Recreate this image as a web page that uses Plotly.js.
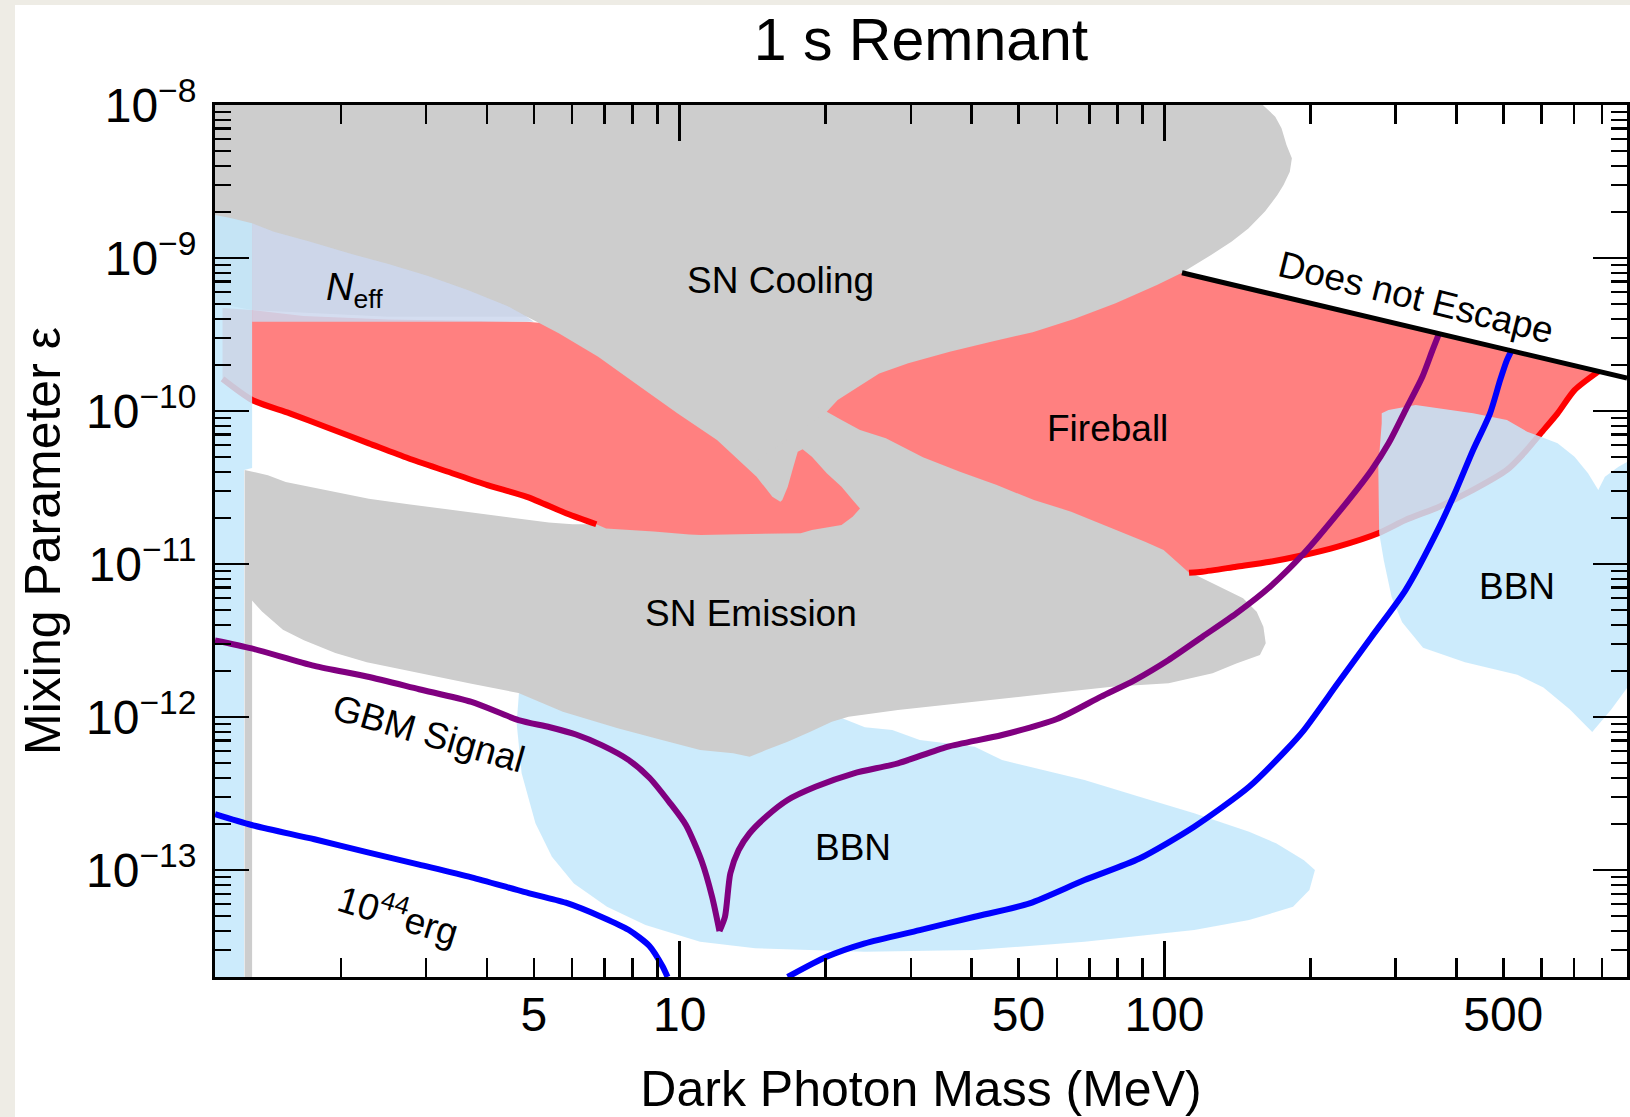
<!DOCTYPE html>
<html>
<head>
<meta charset="utf-8">
<script src="https://cdn.plot.ly/plotly-3.0.1.min.js"></script>
<style>
  html, body { margin: 0; padding: 0; background: #EEECE5; width: 1630px; height: 1117px; overflow: hidden; }
  #chart { position: absolute; left: 15px; top: 5px; width: 1615px; height: 1112px; background: #ffffff; }
</style>
</head>
<body>
<div id="chart"></div>
<script>
// ---------------- data (mass in MeV, mixing parameter epsilon) ----------------
// SN Cooling excluded region (gray)
const snCoolMass = [1.1, 159.6, 169.3, 174.4, 178.6, 183.2, 181.4, 176.1, 171.0, 161.2, 149.0, 137.7, 124.8, 115.3, 108.7, 74.0, 26.0, 16.96, 6.87, 5.68, 5.12, 4.84, 2.508, 1.312, 1.1];
const snCoolEps  = [1e-8, 1e-8, 8.39e-9, 7.04e-9, 5.48e-9, 4.48e-9, 3.66e-9, 3.00e-9, 2.58e-9, 2.01e-9, 1.56e-9, 1.28e-9, 1.046e-9, 9.0e-10, 8.01e-10, 2.15e-10, 6.46e-11, 1.94e-11, 4.12e-11, 1.18e-10, 3.78e-10, 4.13e-10, 4.13e-10, 4.57e-10, 5.08e-10];

// SN Emission region (gray)
const snEmiMass = [1.266, 1.414, 1.539, 1.739, 1.947, 2.284, 2.755, 3.518, 4.326, 5.369, 6.01, 6.73, 11.06, 20.12, 45.99, 93.8, 112.4, 129.8, 145.3, 155.0, 160.0, 161.8, 157.4, 140.7, 125.7, 102.0, 77.9, 58.5, 40.6, 28.2, 22.3, 20.6, 18.6, 16.7, 15.07, 13.94, 12.89, 11.02, 9.19, 7.45, 5.74, 4.65, 3.72, 2.90, 2.262, 1.948, 1.678, 1.519, 1.375, 1.312, 1.312, 1.266];
const snEmiEps  = [4.12e-11, 3.80e-11, 3.44e-11, 3.17e-11, 2.97e-11, 2.67e-11, 2.46e-11, 2.22e-11, 2.04e-11, 1.87e-11, 1.82e-11, 1.82e-11, 2.62e-11, 9.85e-11, 5.56e-11, 1.94e-11, 8.91e-12, 7.11e-12, 5.97e-12, 4.88e-12, 3.89e-12, 3.03e-12, 2.54e-12, 2.24e-12, 1.93e-12, 1.66e-12, 1.58e-12, 1.43e-12, 1.26e-12, 1.11e-12, 1.005e-12, 9.32e-13, 8.01e-13, 6.90e-13, 6.08e-13, 5.50e-13, 5.79e-13, 6.08e-13, 7.07e-13, 8.44e-13, 1.083e-12, 1.437e-12, 1.65e-12, 1.94e-12, 2.28e-12, 2.62e-12, 3.17e-12, 3.72e-12, 4.89e-12, 5.77e-12, 2e-14, 2e-14];

// Fireball region, left band (salmon)
const fireLeftMass = [1.140, 1.312, 1.675, 2.508, 4.84, 5.12, 5.63, 6.79, 8.19, 9.89, 11.94, 14.41, 15.53, 16.13, 16.28, 16.71, 17.16, 17.52, 17.93, 18.74, 20.11, 21.57, 22.74, 23.55, 22.74, 21.57, 18.74, 17.77, 11.06, 10.47, 8.84, 7.05, 6.73, 5.845, 4.84, 4.012, 3.327, 2.755, 2.284, 1.892, 1.569, 1.312, 1.140];
const fireLeftEps  = [4.71e-10, 4.57e-10, 4.18e-10, 3.97e-10, 3.83e-10, 3.78e-10, 3.22e-10, 2.26e-10, 1.48e-10, 9.66e-11, 6.46e-11, 3.72e-11, 2.75e-11, 2.55e-11, 2.62e-11, 3.20e-11, 4.32e-11, 5.42e-11, 5.62e-11, 5.03e-11, 3.92e-11, 3.20e-11, 2.62e-11, 2.31e-11, 2.04e-11, 1.80e-11, 1.67e-11, 1.59e-11, 1.55e-11, 1.56e-11, 1.63e-11, 1.71e-11, 1.82e-11, 2.14e-11, 2.75e-11, 3.28e-11, 4.01e-11, 4.91e-11, 6.15e-11, 7.71e-11, 9.66e-11, 1.18e-10, 1.62e-10];

// Fireball region, right part: upper edge and lower edge
const fireUpperMass = [20.11, 21.18, 23.37, 25.80, 29.61, 36.06, 43.90, 53.48, 65.1, 79.3, 96.5, 108.7];
const fireUpperEps  = [9.89e-11, 1.18e-10, 1.44e-10, 1.76e-10, 2.05e-10, 2.44e-10, 2.84e-10, 3.27e-10, 3.99e-10, 5.06e-10, 6.66e-10, 8.01e-10];
const fireLowerMass = [106.8, 99.6, 91.2, 76.5, 64.2, 53.8, 45.1, 37.85, 31.76, 26.63, 23.55, 21.57];
const fireLowerEps  = [1.011e-11, 1.234e-11, 1.40e-11, 1.75e-11, 2.20e-11, 2.62e-11, 3.28e-11, 4.01e-11, 4.98e-11, 6.63e-11, 7.51e-11, 8.73e-11];

// Fireball boundary line (red)
const redLeftMass = [1.140, 1.312, 1.569, 1.892, 2.284, 2.755, 3.327, 4.012, 4.84, 5.845, 6.73];
const redLeftEps  = [1.62e-10, 1.18e-10, 9.66e-11, 7.71e-11, 6.15e-11, 4.91e-11, 4.01e-11, 3.28e-11, 2.75e-11, 2.14e-11, 1.82e-11];
const redRightMass = [112.4, 119.8, 140.7, 165.2, 194.0, 227.8, 276.2, 314.3, 369.0, 433.3, 508.8, 551.3, 597.4, 647.3, 701.5, 785.2];
const redRightEps  = [8.77e-12, 8.91e-12, 9.60e-12, 1.035e-11, 1.145e-11, 1.30e-11, 1.59e-11, 1.94e-11, 2.37e-11, 3.05e-11, 4.12e-11, 5.29e-11, 7.15e-11, 9.66e-11, 1.37e-10, 1.81e-10];

// "Does not Escape" line (black)
const escapeMass = [108.7, 900];
const escapeEps  = [8.01e-10, 1.64e-10];

// Neff: left vertical strip and upper band
const stripMass = [1.1, 1.184, 1.312, 1.312, 1.263, 1.263, 1.1];
const stripEps  = [1.91e-9, 1.825e-9, 1.69e-9, 4.24e-11, 4.12e-11, 2e-14, 2e-14];
const neffMass = [1.312, 1.455, 1.723, 2.079, 2.508, 3.027, 3.652, 4.41, 4.84, 5.00, 1.312];
const neffEps  = [1.685e-9, 1.485e-9, 1.28e-9, 1.073e-9, 9.14e-10, 7.63e-10, 6.18e-10, 4.86e-10, 4.13e-10, 3.83e-10, 3.83e-10];

// BBN regions (light blue)
const bbnLowMass = [4.66, 4.61, 4.72, 5.04, 5.45, 6.05, 7.08, 8.50, 11.02, 14.31, 24.10, 40.6, 68.4, 115.2, 149.5, 184.2, 199.1, 204.4, 194.0, 170.3, 149.5, 115.2, 88.8, 68.4, 52.7, 46.24, 40.6, 31.28, 27.45, 24.10, 21.71, 17.8, 11.06, 5.68];
const bbnLowEps  = [1.43e-12, 9.10e-13, 4.29e-13, 2.02e-13, 1.22e-13, 8.18e-14, 5.75e-14, 4.37e-14, 3.40e-14, 3.08e-14, 2.92e-14, 3.00e-14, 3.40e-14, 4.05e-14, 4.71e-14, 5.75e-14, 7.40e-14, 1.0e-13, 1.16e-13, 1.49e-13, 1.78e-13, 2.35e-13, 3.01e-13, 3.87e-13, 4.73e-13, 5.24e-13, 6.39e-13, 7.07e-13, 8.22e-13, 8.56e-13, 9.80e-13, 1.29e-12, 1.50e-12, 1.50e-12];
const bbnHighMass = [280.7, 290.0, 329.7, 369.0, 433.3, 508.8, 560.2, 597.4, 647.3, 701.5, 747.9, 785.2, 810.4, 864.5, 900, 900, 835.8, 763.0, 685.4, 605.1, 534.6, 416.9, 341.6, 309.3, 294.2, 283.6, 277.3, 276.2, 280.7];
const bbnHighEps  = [9.66e-11, 1.015e-10, 1.094e-10, 1.041e-10, 9.66e-11, 8.73e-11, 7.32e-11, 6.79e-11, 6.15e-11, 5.03e-11, 3.92e-11, 3.05e-11, 3.72e-11, 4.32e-11, 4.64e-11, 1.547e-12, 1.126e-12, 7.98e-13, 1.126e-12, 1.56e-12, 1.887e-12, 2.285e-12, 2.84e-12, 4.16e-12, 6.08e-12, 1.05e-11, 1.594e-11, 4.32e-11, 8.31e-11];

// GBM Signal curve (purple); the dip minimum is at index 16
const gbmMass = [1.1, 1.309, 1.764, 2.262, 2.90, 3.72, 4.65, 5.40, 6.11, 6.92, 7.84, 8.66, 9.56, 10.30, 11.10, 11.67, 12.08, 12.40, 12.72, 13.23, 13.94, 15.07, 16.7, 19.06, 22.88, 28.2, 35.63, 46.24, 60.0, 74.0, 86.9, 102.0, 119.8, 140.7, 165.2, 194.0, 227.8, 267.6, 290.0, 314.3, 340.5, 357.3, 369.0];
const gbmEps  = [3.17e-12, 2.81e-12, 2.16e-12, 1.84e-12, 1.52e-12, 1.255e-12, 9.56e-13, 8.58e-13, 7.69e-13, 6.53e-13, 5.25e-13, 4.01e-13, 2.73e-13, 1.97e-13, 1.145e-13, 6.64e-14, 3.99e-14, 4.95e-14, 9.52e-14, 1.35e-13, 1.74e-13, 2.23e-13, 2.87e-13, 3.50e-13, 4.29e-13, 4.98e-13, 6.39e-13, 7.63e-13, 9.7e-13, 1.36e-12, 1.745e-12, 2.36e-12, 3.35e-12, 4.76e-12, 7.11e-12, 1.175e-11, 2.14e-11, 4.12e-11, 6.15e-11, 1.015e-10, 1.675e-10, 2.50e-10, 3.24e-10];

// 10^44 erg curve (blue), two branches
const ergLeftMass = [1.1, 1.309, 1.764, 2.262, 2.90, 3.72, 4.77, 5.82, 6.92, 7.84, 8.66, 9.21, 9.44];
const ergLeftEps  = [2.32e-13, 1.97e-13, 1.59e-13, 1.31e-13, 1.085e-13, 8.96e-14, 7.20e-14, 6.12e-14, 4.92e-14, 4.07e-14, 3.19e-14, 2.36e-14, 2.0e-14];
const ergRightMass = [16.7, 20.09, 24.10, 31.28, 40.6, 52.7, 68.4, 88.8, 115.2, 149.5, 178.2, 194.0, 227.8, 267.6, 314.3, 369.0, 399.9, 433.3, 469.6, 492.6, 508.8, 521.8];
const ergRightEps  = [2.0e-14, 2.71e-14, 3.32e-14, 4.05e-14, 4.95e-14, 6.06e-14, 8.60e-14, 1.19e-13, 1.92e-13, 3.50e-13, 6.08e-13, 8.22e-13, 1.66e-12, 3.35e-12, 6.76e-12, 1.75e-11, 3.05e-11, 5.56e-11, 9.66e-11, 1.59e-10, 2.15e-10, 2.54e-10];

// axis ticks
const xMajorTicks = [10, 100];
const xLabelTicks = [5, 50, 500];
const xMinorTicks = [2, 3, 4, 6, 7, 8, 9, 20, 30, 40, 60, 70, 80, 90, 200, 300, 400, 600, 700, 800];
const yMajorExp = [-13, -12, -11, -10, -9, -8];

// ---------------- styling ----------------
const FONT = '"Liberation Sans", Arial, sans-serif';
const GRAY = 'rgb(205,205,205)';
const SALMON = 'rgb(255,128,128)';
const BLUE_FILL = 'rgba(195,231,251,0.85)';
const NEFF_FILL = 'rgba(205,215,237,0.85)';

function area(x, y, color) {
  return { type: 'scatter', mode: 'lines', x: x, y: y, fill: 'toself', fillcolor: color,
           line: { width: 0, color: color }, hoverinfo: 'skip', showlegend: false };
}
function curve(x, y, color, width, xaxis) {
  const t = { type: 'scatter', mode: 'lines', x: x, y: y,
              line: { color: color, width: width, shape: 'spline', smoothing: 0.7 },
              hoverinfo: 'skip', showlegend: false };
  if (xaxis) { t.xaxis = xaxis; t.line.shape = 'linear'; }
  return t;
}

const fireRightMass = fireUpperMass.concat(redRightMass.slice().reverse(), fireLowerMass);
const fireRightEps  = fireUpperEps.concat(redRightEps.slice().reverse(), fireLowerEps);
const DIP = 16;

const traces = [
  area(bbnLowMass, bbnLowEps, BLUE_FILL),
  area(snCoolMass, snCoolEps, GRAY),
  area(snEmiMass, snEmiEps, GRAY),
  area(fireLeftMass, fireLeftEps, SALMON),
  area(fireRightMass, fireRightEps, SALMON),
  curve(redLeftMass, redLeftEps, 'rgb(255,0,0)', 6),
  curve(redRightMass, redRightEps, 'rgb(255,0,0)', 6),
  area(stripMass, stripEps, BLUE_FILL),
  area(neffMass, neffEps, NEFF_FILL),
  area(bbnHighMass, bbnHighEps, BLUE_FILL),
  curve(gbmMass.slice(0, DIP + 1), gbmEps.slice(0, DIP + 1), 'rgb(128,0,128)', 6),
  curve(gbmMass.slice(DIP), gbmEps.slice(DIP), 'rgb(128,0,128)', 6),
  curve(ergLeftMass, ergLeftEps, 'rgb(0,0,255)', 6),
  curve(ergRightMass, ergRightEps, 'rgb(0,0,255)', 6),
  curve(escapeMass, escapeEps, 'rgb(0,0,0)', 5, 'x2')
];

const yMinor = [];
for (let e = -14; e <= -9; e++) {
  for (let d = 2; d <= 9; d++) {
    const v = d * Math.pow(10, e);
    if (v >= 2e-14 && v <= 1e-8) yMinor.push(v);
  }
}

const xRange = [Math.log10(1.1), Math.log10(900)];
const tickFont = { family: FONT, size: 48, color: '#000' };

const commonX = {
  type: 'log', range: xRange, showgrid: false, zeroline: false,
  showline: true, linewidth: 3, linecolor: '#000', mirror: 'ticks',
  ticks: 'inside', tickwidth: 2.5, tickcolor: '#000', tickfont: tickFont,
  tickmode: 'array', ticklabelstandoff: -7
};

const layout = {
  width: 1615, height: 1112,
  paper_bgcolor: '#ffffff', plot_bgcolor: '#ffffff',
  margin: { l: 200, r: 3, t: 100, b: 140 },
  showlegend: false,
  font: { family: FONT, color: '#000' },
  title: { text: '1 s Remnant', font: { family: FONT, size: 59, color: '#000' },
           x: 0.5, xref: 'paper', xanchor: 'center', y: 0.969, yref: 'container', yanchor: 'middle' },
  xaxis: Object.assign({}, commonX, {
    tickvals: xMajorTicks, ticktext: xMajorTicks.map(String), ticklen: 36,
    minor: { tickmode: 'array', tickvals: xMinorTicks, ticks: 'inside', ticklen: 19, tickwidth: 2.5, tickcolor: '#000', showgrid: false },
    title: { text: 'Dark Photon Mass (MeV)', font: { family: FONT, size: 50, color: '#000' }, standoff: 36 }
  }),
  xaxis2: Object.assign({}, commonX, {
    overlaying: 'x', anchor: 'y', side: 'bottom',
    tickvals: xLabelTicks, ticktext: xLabelTicks.map(String), ticklen: 19
  }),
  yaxis: {
    type: 'log', range: [Math.log10(2e-14), -8], showgrid: false, zeroline: false,
    showline: true, linewidth: 3, linecolor: '#000', mirror: 'ticks',
    ticks: 'inside', ticklen: 34, tickwidth: 2.5, tickcolor: '#000', tickfont: tickFont,
    tickmode: 'array', tickvals: yMajorExp.map(e => Math.pow(10, e)),
    ticktext: yMajorExp.map(e => '10<sup>\u2212' + (-e) + '</sup>'),
    ticklabelstandoff: 6,
    minor: { tickmode: 'array', tickvals: yMinor, ticks: 'inside', ticklen: 16, tickwidth: 2.5, tickcolor: '#000', showgrid: false },
    title: { text: 'Mixing Parameter \u03b5', font: { family: FONT, size: 50, color: '#000' }, standoff: 26 }
  },
  annotations: []
};

function label(text, m, eps, size, angle) {
  layout.annotations.push({
    text: text, x: Math.log10(m), y: Math.log10(eps), xref: 'x', yref: 'y',
    showarrow: false, xanchor: 'center', yanchor: 'middle',
    textangle: angle || 0, font: { family: FONT, size: size, color: '#000' }
  });
}
label('SN Cooling', 16.15, 7.1e-10, 37);
label('SN Emission', 14.05, 4.76e-12, 37);
label('Fireball', 76.3, 7.65e-11, 37);
label('BBN', 22.77, 1.41e-13, 37);
label('BBN', 533.9, 7.18e-12, 37);
label('<i>N</i><sub>eff</sub>', 2.135, 6.18e-10, 38);
label('Does not Escape', 330.6, 5.48e-10, 37, 14);
label('GBM Signal', 3.03, 7.80e-13, 37, 16);
label('10<sup>44</sup>erg', 2.626, 5.20e-14, 37, 17);

Plotly.newPlot('chart', traces, layout, { displayModeBar: false, staticPlot: true });
</script>
</body>
</html>
